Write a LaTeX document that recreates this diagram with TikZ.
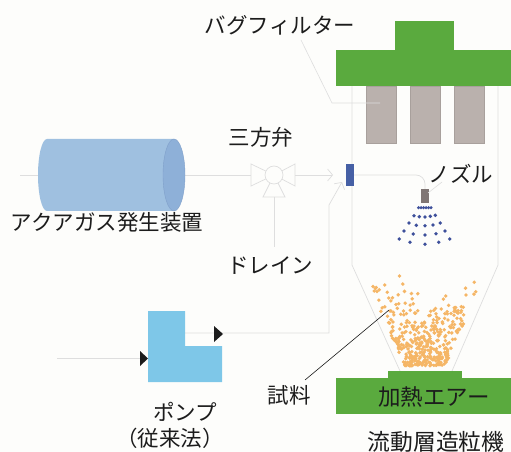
\documentclass[tikz,border=0pt]{standalone}
\usepackage{fontspec}
\setmainfont{Noto Sans CJK JP}
\usetikzlibrary{arrows.meta}

\definecolor{paper}{RGB}{253,253,251}
\definecolor{ink}{RGB}{28,28,28}
\definecolor{pipegray}{RGB}{222,222,222}
\definecolor{leafgreen}{RGB}{90,170,62}
\definecolor{bagfill}{RGB}{186,177,173}
\definecolor{bagedge}{RGB}{168,160,156}
\definecolor{tankbody}{RGB}{159,192,224}
\definecolor{tankend}{RGB}{142,176,216}
\definecolor{tankedge}{RGB}{128,160,202}
\definecolor{pumpblue}{RGB}{126,199,232}
\definecolor{inletblue}{RGB}{70,96,165}
\definecolor{nozzlegray}{RGB}{128,118,116}
\definecolor{spray}{RGB}{62,80,155}
\definecolor{grain}{RGB}{245,182,102}

\begin{document}
\begin{tikzpicture}[x=1bp,y=-1bp,
  pipe/.style={draw=pipegray, line width=0.7bp},
  flow/.style={pipe, -{Straight Barb[length=5bp,width=12bp]}},
  lbl/.style={font=\fontsize{21.5bp}{24bp}\selectfont, text=ink, inner sep=0pt},
  biglbl/.style={lbl, font=\fontsize{22.8bp}{26bp}\selectfont},
  pointer/.style={draw=pipegray, line width=0.6bp},
  blockgreen/.style={fill=leafgreen, draw=none},
  bag/.style={fill=bagfill, draw=bagedge, line width=0.5bp},
  marker/.style={fill=ink, draw=none},
  drop/.style={fill=spray},
  grainstyle/.style={fill=grain}]

\fill[paper] (0,0) rectangle (511,452);
\useasboundingbox (0,0) rectangle (511,452);

% ---------- named points of the piping ----------
\coordinate (gasSrc)   at (20,175);
\coordinate (valveL)   at (251,175);
\coordinate (valveR)   at (295,175);
\coordinate (valveB)   at (274,197);
\coordinate (drainEnd) at (274,247);
\coordinate (inletA)   at (333,175);
\coordinate (pumpFeed) at (57,358);
\coordinate (pumpIn)   at (148,358);
\coordinate (pumpOut)  at (185,333);
\coordinate (bendA)    at (329,333);
\coordinate (bendB)    at (329,205);
\coordinate (inletB)   at (342,182);
\coordinate (feedOut)  at (354,175);
\coordinate (nozzleTop) at (425,189);

% ---------- gas generator line (behind the tank) ----------
\draw[pipe] (gasSrc) -- (valveL);

% ---------- aqua gas generator (horizontal cylinder) ----------
\fill[tankbody] (47,139) -- (174,139) -- (174,211) -- (47,211)
  arc[start angle=90, end angle=270, x radius=9, y radius=36] -- cycle;
\filldraw[fill=tankend, draw=tankedge, line width=0.4bp] (174,175) ellipse[x radius=11, y radius=36];
\node[lbl] (genLabel) at (107,222) {アクアガス発生装置};

% ---------- three-way valve ----------
\draw[pipe, fill=paper] (valveL) -- (251,164) -- (274,175) -- (251,186) -- cycle;
\draw[pipe, fill=paper] (valveR) -- (295,164) -- (274,175) -- (295,186) -- cycle;
\draw[pipe, fill=paper] (263,197) -- (285,197) -- (274,175) -- cycle;
\node[circle, pipe, fill=paper, minimum size=18bp, inner sep=0pt] (valve) at (274,175) {};
\node[lbl] (valveLabel) at (261,137) {三方弁};
\draw[pipe] (valveB) -- (drainEnd);
\node[lbl] (drainLabel) at (270,266) {ドレイン};

% ---------- vessel outline ----------
\draw[pipe] (352,86) -- (352,265) -- (400,371);
\draw[pipe] (498,86) -- (498,265) -- (452,371);

% ---------- feed lines into the vessel ----------
\draw[flow] (valveR) -- (inletA);
\draw[pipe] (pumpFeed) -- (pumpIn);
\draw[flow] (pumpOut) -- (bendA) -- (bendB) -- (inletB);
\draw[pipe, rounded corners=9bp] (feedOut) -- (425,175) -- (nozzleTop);

% ---------- bag filter ----------
\fill[blockgreen] (395,21) rectangle (454,50);
\fill[blockgreen] (336,50) rectangle (511,86);
\draw[bag] (366,86) rectangle (396,143);
\draw[bag] (410,86) rectangle (440,143);
\draw[bag] (454,86) rectangle (484,143);
\node[lbl] (bagLabel) at (280,25) {バグフィルター};
\draw[pointer] (301,40) -- (332,103) -- (380,103);

% ---------- inlet port and spray nozzle ----------
\fill[inletblue] (346,164) rectangle (354,186);
\node[fill=nozzlegray, minimum width=8bp, minimum height=14bp, inner sep=0pt] (nozzle) at (425,196) {};
\node[lbl] (nozzleLabel) at (461,174) {ノズル};
\draw[pointer] (428,193) -- (442,182);

% spray droplets
\foreach \x in {418.5,421,423.5,426,428.5,431}
  \fill[drop] (\x,207.7) circle[radius=1.7];
\foreach \x/\y in {414/215.7, 419.3/216.7, 425/217, 430.3/216.3, 435.3/215.3,
                   409/223, 416.3/225.3, 425/225.7, 433/225, 440.3/223,
                   404/231, 413.3/234, 425/235, 436/233.7, 445/231,
                   399.3/239, 410/242.3, 425/244.3, 438.7/242.3, 449.7/239}
  \fill[drop] (\x,\y) circle[radius=1.9];

% ---------- powder bed ----------
\pgfmathsetseed{12}
\foreach \i in {1,...,400}{
  \pgfmathsetmacro\u{rnd}
  \pgfmathsetmacro\v{rnd}
  \pgfmathsetmacro\yt{264 + 22*exp(-((\u-0.55)/0.18)*((\u-0.55)/0.18)) + 10*\u}
  \pgfmathsetmacro\yy{\yt + (366-\yt)*sqrt(\v)}
  \pgfmathsetmacro\xl{352 + (\yy-265)*48/106 + 7}
  \pgfmathsetmacro\xr{498 - (\yy-265)*46/106 - 9}
  \fill[grainstyle] (\xl + \u*\xr - \u*\xl, \yy) circle[radius=1.9];
}
\node[lbl] (sampleLabel) at (289,395) {試料};
\draw[draw=ink, line width=0.6bp] (305,380) -- (389,310);

% ---------- heated air plenum ----------
\fill[blockgreen] (388,371) rectangle (462,378);
\fill[blockgreen] (336,378) rectangle (511,414);
\node[biglbl, font=\fontsize{22.5bp}{26bp}\selectfont] (airLabel) at (434,397) {加熱エアー};
\node[biglbl] (fbLabel) at (436,442) {流動層造粒機};

% ---------- pump ----------
\fill[pumpblue] (148,311) -- (185,311) -- (185,346) -- (222,346) -- (222,382) -- (148,382) -- cycle;
\fill[marker] (140,351) -- (148,358.5) -- (140,366) -- cycle;
\fill[marker] (214,326) -- (223,334) -- (214,342) -- cycle;
\node[lbl] (pumpLabel) at (185,412) {ポンプ};
\node[lbl] (pumpNote) at (170,438) {（従来法）};

\end{tikzpicture}
\end{document}
